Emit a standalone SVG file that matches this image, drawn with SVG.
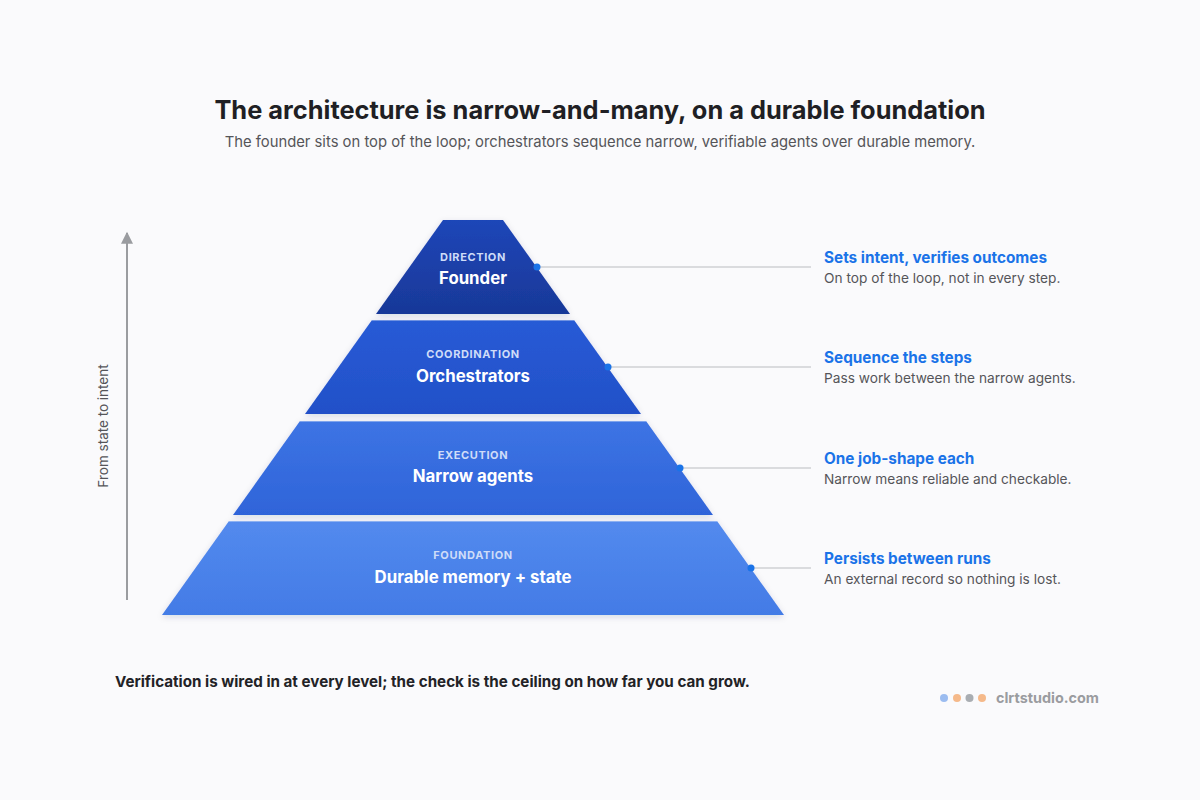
<svg xmlns="http://www.w3.org/2000/svg" width="1200" height="800" viewBox="0 0 1200 800">
<defs>
<linearGradient id="g1" x1="0" y1="0" x2="0" y2="1"><stop offset="0" stop-color="#1f46b8"/><stop offset="1" stop-color="#183898"/></linearGradient>
<linearGradient id="g2" x1="0" y1="0" x2="0" y2="1"><stop offset="0" stop-color="#285bd6"/><stop offset="1" stop-color="#2250c8"/></linearGradient>
<linearGradient id="g3" x1="0" y1="0" x2="0" y2="1"><stop offset="0" stop-color="#3d74e4"/><stop offset="1" stop-color="#2f64d9"/></linearGradient>
<linearGradient id="g4" x1="0" y1="0" x2="0" y2="1"><stop offset="0" stop-color="#538aee"/><stop offset="1" stop-color="#437be6"/></linearGradient>
<filter id="sh" x="-10%" y="-10%" width="120%" height="130%"><feDropShadow dx="0" dy="2" stdDeviation="3" flood-color="#1a2a5a" flood-opacity="0.15"/></filter>
<marker id="arr" viewBox="0 0 10 10" refX="9" refY="5" markerWidth="14" markerHeight="12" orient="auto" markerUnits="userSpaceOnUse"><path d="M0,0 L10,5 L0,10 Z" fill="#9a9ca0"/></marker>
</defs>
<style>
text{font-family:Inter,"Liberation Sans",sans-serif}
.kick{font-size:11px;font-weight:700;letter-spacing:0.6px;fill:#cfdcf8;text-anchor:middle}
.name{font-size:16.8px;font-weight:700;fill:#ffffff;text-anchor:middle}
.ht{font-size:15.3px;font-weight:700;fill:#1a73e8}
.st{font-size:13.7px;fill:#555559}
.lead{stroke:#cfd0d4;stroke-width:1.3}
.dot{fill:#1a73e8}
</style>
<rect width="1200" height="800" fill="#fafafc"/>
<text x="600" y="119" text-anchor="middle" font-size="25.4" font-weight="700" fill="#1f1f24">The architecture is narrow-and-many, on a durable foundation</text>
<text x="600" y="147" text-anchor="middle" font-size="14.8" fill="#555559">The founder sits on top of the loop; orchestrators sequence narrow, verifiable agents over durable memory.</text>

<g id="axis">
<line x1="127" y1="600" x2="127" y2="233" stroke="#9a9ca0" stroke-width="2" marker-end="url(#arr)"/>
<text transform="translate(108,426) rotate(-90)" text-anchor="middle" font-size="13.5" fill="#555559">From state to intent</text>
</g>

<g id="connectors">
<line class="lead" x1="537" y1="267" x2="811" y2="267"/>
<line class="lead" x1="608" y1="367" x2="811" y2="367"/>
<line class="lead" x1="680" y1="468" x2="811" y2="468"/>
<line class="lead" x1="751" y1="568" x2="811" y2="568"/>
</g>

<g id="layer-foundation">
<polygon points="229,521 717,521 784,615 162,615" fill="url(#g4)" filter="url(#sh)"/>
<line x1="229" y1="521.5" x2="717" y2="521.5" stroke="#ffffff" stroke-opacity="0.35"/>
<text class="kick" x="473" y="559">FOUNDATION</text>
<text class="name" x="473" y="583">Durable memory + state</text>
<circle class="dot" cx="751" cy="568" r="3.5"/>
</g>
<g id="layer-execution">
<polygon points="300,421 646,421 713,515 233,515" fill="url(#g3)" filter="url(#sh)"/>
<line x1="300" y1="421.5" x2="646" y2="421.5" stroke="#ffffff" stroke-opacity="0.35"/>
<text class="kick" x="473" y="459">EXECUTION</text>
<text class="name" x="473" y="482">Narrow agents</text>
<circle class="dot" cx="680" cy="468" r="3.5"/>
</g>
<g id="layer-coordination">
<polygon points="372,320 574,320 641,414 305,414" fill="url(#g2)" filter="url(#sh)"/>
<line x1="372" y1="320.5" x2="574" y2="320.5" stroke="#ffffff" stroke-opacity="0.35"/>
<text class="kick" x="473" y="358">COORDINATION</text>
<text class="name" x="473" y="382">Orchestrators</text>
<circle class="dot" cx="608" cy="367" r="3.5"/>
</g>
<g id="layer-direction">
<polygon points="443,220 503,220 570,314 376,314" fill="url(#g1)" filter="url(#sh)"/>
<text class="kick" x="473" y="261">DIRECTION</text>
<text class="name" x="473" y="284">Founder</text>
<circle class="dot" cx="537" cy="267" r="3.5"/>
</g>

<g id="notes">
<text class="ht" x="824" y="263">Sets intent, verifies outcomes</text>
<text class="st" x="824" y="283">On top of the loop, not in every step.</text>
<text class="ht" x="824" y="363">Sequence the steps</text>
<text class="st" x="824" y="383">Pass work between the narrow agents.</text>
<text class="ht" x="824" y="464">One job-shape each</text>
<text class="st" x="824" y="484">Narrow means reliable and checkable.</text>
<text class="ht" x="824" y="564">Persists between runs</text>
<text class="st" x="824" y="584">An external record so nothing is lost.</text>
</g>

<text x="115" y="687" font-size="15.2" font-weight="700" fill="#222226">Verification is wired in at every level; the check is the ceiling on how far you can grow.</text>

<g id="brand">
<circle cx="944" cy="698" r="4" fill="#9bbcf0"/>
<circle cx="957" cy="698" r="4" fill="#f5b98a"/>
<circle cx="969.5" cy="698" r="4" fill="#a9adb2"/>
<circle cx="982" cy="698" r="4" fill="#f5b98a"/>
<text x="996" y="703" font-size="14.4" font-weight="700" fill="#9a9ca0">clrtstudio.com</text>
</g>
</svg>
